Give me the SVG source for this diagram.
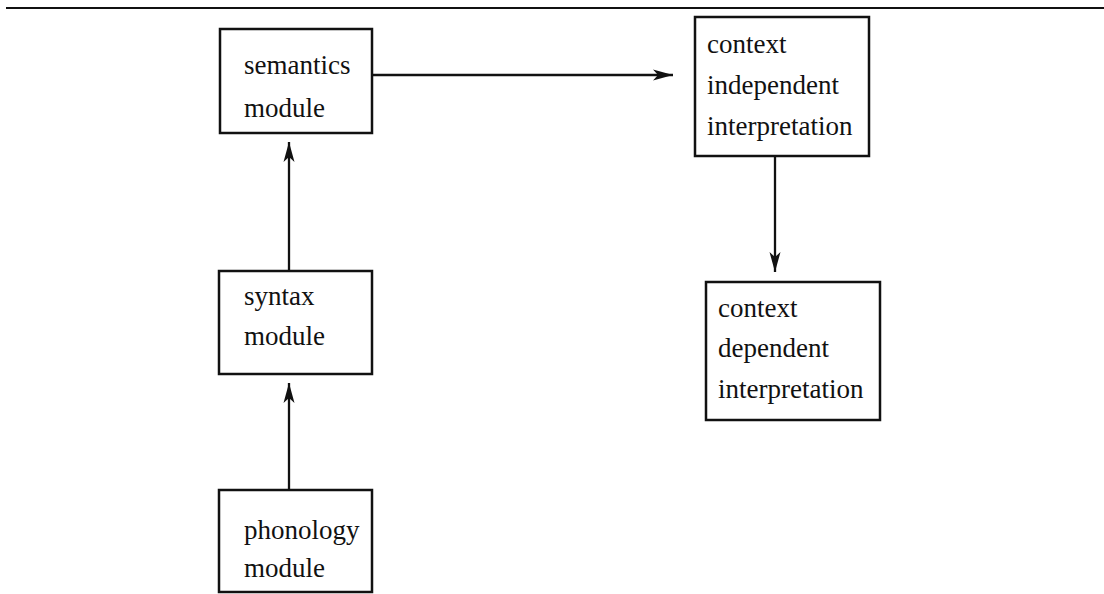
<svg xmlns="http://www.w3.org/2000/svg" width="1104" height="594" viewBox="0 0 1104 594">
<style>
.box{fill:#fff;stroke:#111;stroke-width:2.5}
.lbl{font-family:"Liberation Serif","Times New Roman",serif;font-size:27px;fill:#111}
.conn{stroke:#111;stroke-width:2.3;fill:none}
</style>
<defs>
<marker id="ah" markerUnits="userSpaceOnUse" markerWidth="22" markerHeight="14" refX="20" refY="7" orient="auto">
<path d="M0,1.5 L20,7 L0,12.5 L5,7 Z" fill="#111"/>
</marker>
</defs>
<rect width="1104" height="594" fill="#fff"/>
<line x1="6" y1="8" x2="1104" y2="8" stroke="#111" stroke-width="2.2"/>
<g id="connectors">
<line class="conn" x1="372" y1="75" x2="673" y2="75" marker-end="url(#ah)"/>
<line class="conn" x1="289" y1="271" x2="289" y2="142" marker-end="url(#ah)"/>
<line class="conn" x1="289" y1="490" x2="289" y2="383" marker-end="url(#ah)"/>
<line class="conn" x1="775" y1="156" x2="775" y2="272" marker-end="url(#ah)"/>
</g>
<g id="semantics">
<rect class="box" x="220" y="29" width="152" height="104"/>
<text class="lbl" x="244" y="74">semantics</text>
<text class="lbl" x="244" y="117">module</text>
</g>
<g id="syntax">
<rect class="box" x="219" y="271" width="153" height="103"/>
<text class="lbl" x="244" y="305">syntax</text>
<text class="lbl" x="244" y="345">module</text>
</g>
<g id="phonology">
<rect class="box" x="219" y="490" width="153" height="102"/>
<text class="lbl" x="244" y="539">phonology</text>
<text class="lbl" x="244" y="577">module</text>
</g>
<g id="context-independent">
<rect class="box" x="695" y="17" width="174" height="139"/>
<text class="lbl" x="707" y="53">context</text>
<text class="lbl" x="707" y="94">independent</text>
<text class="lbl" x="707" y="135">interpretation</text>
</g>
<g id="context-dependent">
<rect class="box" x="706" y="282" width="174" height="138"/>
<text class="lbl" x="718" y="317">context</text>
<text class="lbl" x="718" y="357">dependent</text>
<text class="lbl" x="718" y="398">interpretation</text>
</g>
</svg>
